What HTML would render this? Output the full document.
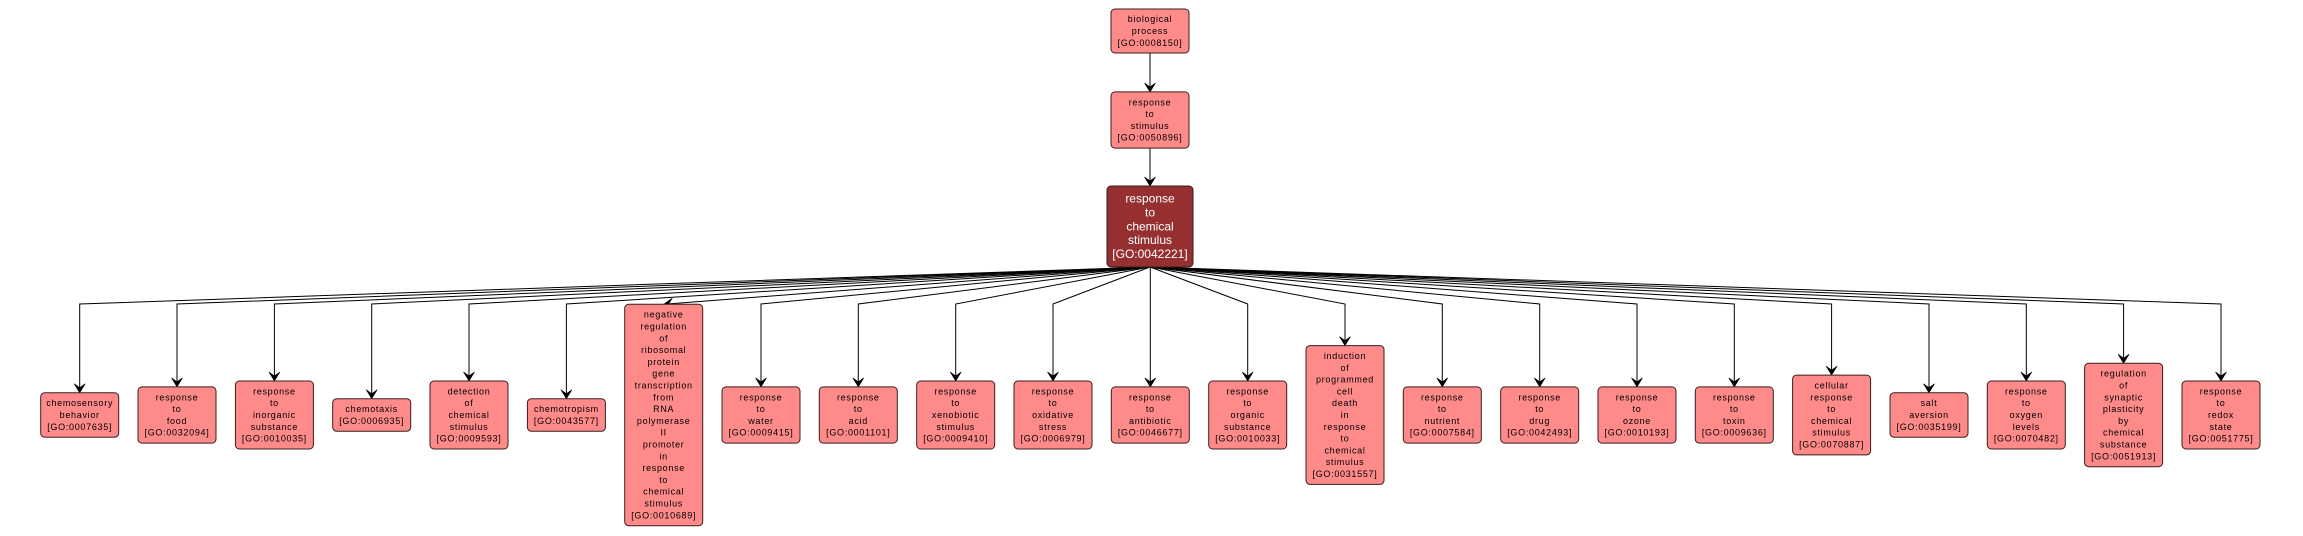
<!DOCTYPE html>
<html>
<head>
<meta charset="utf-8">
<style>
html,body{margin:0;padding:0;background:#fff;}
svg{display:block;}
.n{fill:#ff8a8a;stroke:#3b1e1e;stroke-width:1;}
.d{fill:#963030;stroke:#3b1e1e;stroke-width:1;}
.e{fill:none;stroke:#000;stroke-width:1;}
.a{fill:#000;stroke:#000;stroke-width:0.6;}
text{font-family:"Liberation Sans",sans-serif;font-size:9px;letter-spacing:0.7px;text-anchor:middle;fill:#000;}
text.w{font-size:12px;letter-spacing:0;fill:#fff;}
</style>
</head>
<body>
<svg width="2303" height="536" viewBox="0 0 2303 536" xmlns="http://www.w3.org/2000/svg">
<!-- top edges -->
<path class="e" d="M1150 53 L1150 87"/>
<polygon class="a" points="1150,92 1144.5,83 1150,87 1155.5,83"/>
<path class="e" d="M1150 148 L1150 181"/>
<polygon class="a" points="1150,186 1144.5,177 1150,181 1155.5,177"/>

<!-- fan edges -->
<path class="e" d="M1150 267 L79.7 304 L79.7 387.8"/><polygon class="a" points="79.7,392.8 74.2,383.8 79.7,387.8 85.2,383.8"/>
<path class="e" d="M1150 267 L177 304 L177 381.9"/><polygon class="a" points="177,386.9 171.5,377.9 177,381.9 182.5,377.9"/>
<path class="e" d="M1150 267 L274.4 304 L274.4 376"/><polygon class="a" points="274.4,381 268.9,372 274.4,376 279.9,372"/>
<path class="e" d="M1150 267 L371.7 304 L371.7 393.7"/><polygon class="a" points="371.7,398.7 366.2,389.7 371.7,393.7 377.2,389.7"/>
<path class="e" d="M1150 267 L469 304 L469 376"/><polygon class="a" points="469,381 463.5,372 469,376 474.5,372"/>
<path class="e" d="M1150 267 L566.4 304 L566.4 393.7"/><polygon class="a" points="566.4,398.7 560.9,389.7 566.4,393.7 571.9,389.7"/>
<path class="e" d="M1150 267 L668.7 303.9"/><polygon class="a" points="663.7,304.3 672.3,298.1 668.7,303.9 673.1,309.1"/>
<path class="e" d="M1150 267 L761 304 L761 381.9"/><polygon class="a" points="761,386.9 755.5,377.9 761,381.9 766.5,377.9"/>
<path class="e" d="M1150 267 L858.3 304 L858.3 381.9"/><polygon class="a" points="858.3,386.9 852.8,377.9 858.3,381.9 863.8,377.9"/>
<path class="e" d="M1150 267 L955.7 304 L955.7 376"/><polygon class="a" points="955.7,381 950.2,372 955.7,376 961.2,372"/>
<path class="e" d="M1150 267 L1053 304 L1053 376"/><polygon class="a" points="1053,381 1047.5,372 1053,376 1058.5,372"/>
<path class="e" d="M1150.3 267 L1150.3 381.9"/><polygon class="a" points="1150.3,386.9 1144.8,377.9 1150.3,381.9 1155.8,377.9"/>
<path class="e" d="M1150 267 L1247.7 304 L1247.7 376"/><polygon class="a" points="1247.7,381 1242.2,372 1247.7,376 1253.2,372"/>
<path class="e" d="M1150 267 L1345 304 L1345 340.6"/><polygon class="a" points="1345,345.6 1339.5,336.6 1345,340.6 1350.5,336.6"/>
<path class="e" d="M1150 267 L1442.3 304 L1442.3 381.9"/><polygon class="a" points="1442.3,386.9 1436.8,377.9 1442.3,381.9 1447.8,377.9"/>
<path class="e" d="M1150 267 L1539.7 304 L1539.7 381.9"/><polygon class="a" points="1539.7,386.9 1534.2,377.9 1539.7,381.9 1545.2,377.9"/>
<path class="e" d="M1150 267 L1637 304 L1637 381.9"/><polygon class="a" points="1637,386.9 1631.5,377.9 1637,381.9 1642.5,377.9"/>
<path class="e" d="M1150 267 L1734.3 304 L1734.3 381.9"/><polygon class="a" points="1734.3,386.9 1728.8,377.9 1734.3,381.9 1739.8,377.9"/>
<path class="e" d="M1150 267 L1831.6 304 L1831.6 370.1"/><polygon class="a" points="1831.6,375.1 1826.1,366.1 1831.6,370.1 1837.1,366.1"/>
<path class="e" d="M1150 267 L1929 304 L1929 387.8"/><polygon class="a" points="1929,392.8 1923.5,383.8 1929,387.8 1934.5,383.8"/>
<path class="e" d="M1150 267 L2026.3 304 L2026.3 376"/><polygon class="a" points="2026.3,381 2020.8,372 2026.3,376 2031.8,372"/>
<path class="e" d="M1150 267 L2123.6 304 L2123.6 358.3"/><polygon class="a" points="2123.6,363.3 2118.1,354.3 2123.6,358.3 2129.1,354.3"/>
<path class="e" d="M1150 267 L2221 304 L2221 376"/><polygon class="a" points="2221,381 2215.5,372 2221,376 2226.5,372"/>

<!-- top nodes -->
<rect class="n" x="1111" y="9" width="78" height="44" rx="4"/>
<text><tspan x="1150" y="22.2">biological</tspan><tspan x="1150" y="34">process</tspan><tspan x="1150" y="45.8">[GO:0008150]</tspan></text>

<rect class="n" x="1111" y="91.9" width="78" height="56.2" rx="4"/>
<text><tspan x="1150" y="105.3">response</tspan><tspan x="1150" y="117.1">to</tspan><tspan x="1150" y="128.9">stimulus</tspan><tspan x="1150" y="140.7">[GO:0050896]</tspan></text>

<rect class="d" x="1107" y="186" width="86" height="81" rx="4"/>
<text class="w"><tspan x="1150" y="202.5">response</tspan><tspan x="1150" y="216.4">to</tspan><tspan x="1150" y="230.3">chemical</tspan><tspan x="1150" y="244.2">stimulus</tspan><tspan x="1150" y="258.1">[GO:0042221]</tspan></text>

<!-- bottom nodes -->
<rect class="n" x="40.7" y="392.8" width="78" height="44.4" rx="4"/>
<text><tspan x="79.7" y="406.2">chemosensory</tspan><tspan x="79.7" y="418">behavior</tspan><tspan x="79.7" y="429.8">[GO:0007635]</tspan></text>

<rect class="n" x="138" y="386.9" width="78" height="56.2" rx="4"/>
<text><tspan x="177" y="400.3">response</tspan><tspan x="177" y="412.1">to</tspan><tspan x="177" y="423.9">food</tspan><tspan x="177" y="435.7">[GO:0032094]</tspan></text>

<rect class="n" x="235.4" y="381" width="78" height="68" rx="4"/>
<text><tspan x="274.4" y="394.4">response</tspan><tspan x="274.4" y="406.2">to</tspan><tspan x="274.4" y="418">inorganic</tspan><tspan x="274.4" y="429.8">substance</tspan><tspan x="274.4" y="441.6">[GO:0010035]</tspan></text>

<rect class="n" x="332.7" y="398.7" width="78" height="32.6" rx="4"/>
<text><tspan x="371.7" y="412.1">chemotaxis</tspan><tspan x="371.7" y="423.9">[GO:0006935]</tspan></text>

<rect class="n" x="430" y="381" width="78" height="68" rx="4"/>
<text><tspan x="469" y="394.4">detection</tspan><tspan x="469" y="406.2">of</tspan><tspan x="469" y="418">chemical</tspan><tspan x="469" y="429.8">stimulus</tspan><tspan x="469" y="441.6">[GO:0009593]</tspan></text>

<rect class="n" x="527.4" y="398.7" width="78" height="32.6" rx="4"/>
<text><tspan x="566.4" y="412.1">chemotropism</tspan><tspan x="566.4" y="423.9">[GO:0043577]</tspan></text>

<rect class="n" x="624.7" y="304.3" width="78" height="221.4" rx="4"/>
<text><tspan x="663.7" y="317.7">negative</tspan><tspan x="663.7" y="329.5">regulation</tspan><tspan x="663.7" y="341.3">of</tspan><tspan x="663.7" y="353.1">ribosomal</tspan><tspan x="663.7" y="364.9">protein</tspan><tspan x="663.7" y="376.7">gene</tspan><tspan x="663.7" y="388.5">transcription</tspan><tspan x="663.7" y="400.3">from</tspan><tspan x="663.7" y="412.1">RNA</tspan><tspan x="663.7" y="423.9">polymerase</tspan><tspan x="663.7" y="435.7">II</tspan><tspan x="663.7" y="447.5">promoter</tspan><tspan x="663.7" y="459.3">in</tspan><tspan x="663.7" y="471.1">response</tspan><tspan x="663.7" y="482.9">to</tspan><tspan x="663.7" y="494.7">chemical</tspan><tspan x="663.7" y="506.5">stimulus</tspan><tspan x="663.7" y="518.3">[GO:0010689]</tspan></text>

<rect class="n" x="722" y="386.9" width="78" height="56.2" rx="4"/>
<text><tspan x="761" y="400.3">response</tspan><tspan x="761" y="412.1">to</tspan><tspan x="761" y="423.9">water</tspan><tspan x="761" y="435.7">[GO:0009415]</tspan></text>

<rect class="n" x="819.3" y="386.9" width="78" height="56.2" rx="4"/>
<text><tspan x="858.3" y="400.3">response</tspan><tspan x="858.3" y="412.1">to</tspan><tspan x="858.3" y="423.9">acid</tspan><tspan x="858.3" y="435.7">[GO:0001101]</tspan></text>

<rect class="n" x="916.7" y="381" width="78" height="68" rx="4"/>
<text><tspan x="955.7" y="394.4">response</tspan><tspan x="955.7" y="406.2">to</tspan><tspan x="955.7" y="418">xenobiotic</tspan><tspan x="955.7" y="429.8">stimulus</tspan><tspan x="955.7" y="441.6">[GO:0009410]</tspan></text>

<rect class="n" x="1014" y="381" width="78" height="68" rx="4"/>
<text><tspan x="1053" y="394.4">response</tspan><tspan x="1053" y="406.2">to</tspan><tspan x="1053" y="418">oxidative</tspan><tspan x="1053" y="429.8">stress</tspan><tspan x="1053" y="441.6">[GO:0006979]</tspan></text>

<rect class="n" x="1111.3" y="386.9" width="78" height="56.2" rx="4"/>
<text><tspan x="1150.3" y="400.3">response</tspan><tspan x="1150.3" y="412.1">to</tspan><tspan x="1150.3" y="423.9">antibiotic</tspan><tspan x="1150.3" y="435.7">[GO:0046677]</tspan></text>

<rect class="n" x="1208.7" y="381" width="78" height="68" rx="4"/>
<text><tspan x="1247.7" y="394.4">response</tspan><tspan x="1247.7" y="406.2">to</tspan><tspan x="1247.7" y="418">organic</tspan><tspan x="1247.7" y="429.8">substance</tspan><tspan x="1247.7" y="441.6">[GO:0010033]</tspan></text>

<rect class="n" x="1306" y="345.6" width="78" height="138.8" rx="4"/>
<text><tspan x="1345" y="359">induction</tspan><tspan x="1345" y="370.8">of</tspan><tspan x="1345" y="382.6">programmed</tspan><tspan x="1345" y="394.4">cell</tspan><tspan x="1345" y="406.2">death</tspan><tspan x="1345" y="418">in</tspan><tspan x="1345" y="429.8">response</tspan><tspan x="1345" y="441.6">to</tspan><tspan x="1345" y="453.4">chemical</tspan><tspan x="1345" y="465.2">stimulus</tspan><tspan x="1345" y="477">[GO:0031557]</tspan></text>

<rect class="n" x="1403.3" y="386.9" width="78" height="56.2" rx="4"/>
<text><tspan x="1442.3" y="400.3">response</tspan><tspan x="1442.3" y="412.1">to</tspan><tspan x="1442.3" y="423.9">nutrient</tspan><tspan x="1442.3" y="435.7">[GO:0007584]</tspan></text>

<rect class="n" x="1500.7" y="386.9" width="78" height="56.2" rx="4"/>
<text><tspan x="1539.7" y="400.3">response</tspan><tspan x="1539.7" y="412.1">to</tspan><tspan x="1539.7" y="423.9">drug</tspan><tspan x="1539.7" y="435.7">[GO:0042493]</tspan></text>

<rect class="n" x="1598" y="386.9" width="78" height="56.2" rx="4"/>
<text><tspan x="1637" y="400.3">response</tspan><tspan x="1637" y="412.1">to</tspan><tspan x="1637" y="423.9">ozone</tspan><tspan x="1637" y="435.7">[GO:0010193]</tspan></text>

<rect class="n" x="1695.3" y="386.9" width="78" height="56.2" rx="4"/>
<text><tspan x="1734.3" y="400.3">response</tspan><tspan x="1734.3" y="412.1">to</tspan><tspan x="1734.3" y="423.9">toxin</tspan><tspan x="1734.3" y="435.7">[GO:0009636]</tspan></text>

<rect class="n" x="1792.6" y="375.1" width="78" height="79.8" rx="4"/>
<text><tspan x="1831.6" y="388.5">cellular</tspan><tspan x="1831.6" y="400.3">response</tspan><tspan x="1831.6" y="412.1">to</tspan><tspan x="1831.6" y="423.9">chemical</tspan><tspan x="1831.6" y="435.7">stimulus</tspan><tspan x="1831.6" y="447.5">[GO:0070887]</tspan></text>

<rect class="n" x="1890" y="392.8" width="78" height="44.4" rx="4"/>
<text><tspan x="1929" y="406.2">salt</tspan><tspan x="1929" y="418">aversion</tspan><tspan x="1929" y="429.8">[GO:0035199]</tspan></text>

<rect class="n" x="1987.3" y="381" width="78" height="68" rx="4"/>
<text><tspan x="2026.3" y="394.4">response</tspan><tspan x="2026.3" y="406.2">to</tspan><tspan x="2026.3" y="418">oxygen</tspan><tspan x="2026.3" y="429.8">levels</tspan><tspan x="2026.3" y="441.6">[GO:0070482]</tspan></text>

<rect class="n" x="2084.6" y="363.3" width="78" height="103.4" rx="4"/>
<text><tspan x="2123.6" y="376.7">regulation</tspan><tspan x="2123.6" y="388.5">of</tspan><tspan x="2123.6" y="400.3">synaptic</tspan><tspan x="2123.6" y="412.1">plasticity</tspan><tspan x="2123.6" y="423.9">by</tspan><tspan x="2123.6" y="435.7">chemical</tspan><tspan x="2123.6" y="447.5">substance</tspan><tspan x="2123.6" y="459.3">[GO:0051913]</tspan></text>

<rect class="n" x="2182" y="381" width="78" height="68" rx="4"/>
<text><tspan x="2221" y="394.4">response</tspan><tspan x="2221" y="406.2">to</tspan><tspan x="2221" y="418">redox</tspan><tspan x="2221" y="429.8">state</tspan><tspan x="2221" y="441.6">[GO:0051775]</tspan></text>
</svg>
</body>
</html>
